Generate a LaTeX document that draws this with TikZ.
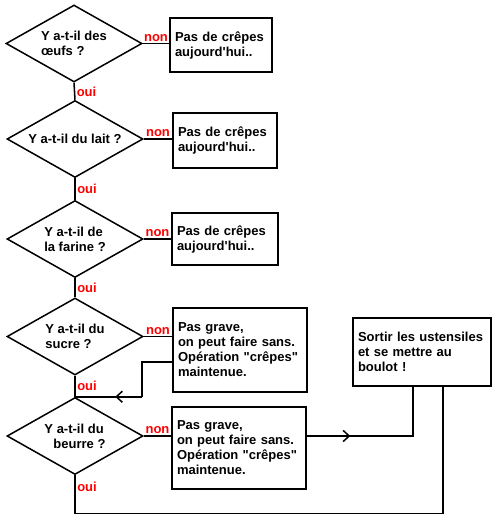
\documentclass[tikz,border=0pt]{standalone}
\usepackage{fontspec}
\newfontfamily\crepefont{Liberation Sans}
\usepackage{tikz}
\usetikzlibrary{
    arrows.meta,
    shapes.geometric,
    decorations.markings
}
\tikzstyle{question} = [diamond, draw, line width=1.5pt, inner sep=0pt, aspect=1.77, minimum width=136pt, minimum height=77pt, align=left]
\tikzstyle{issue} = [rectangle, draw, line width=1.5pt, inner xsep=5pt, inner ysep=0pt, align=left]
\tikzstyle{lien} = [line width=1.5pt]
\tikzstyle{rep} = [text=red, font=\crepefont\bfseries\fontsize{13}{15}\selectfont, inner sep=1.5pt]
\tikzset{milieu/.style={postaction={decorate}, decoration={markings, mark=at position #1 with {\arrow{Straight Barb[length=6pt,width=11pt]}}}}}

\begin{document}
\begin{tikzpicture}[x=1pt,y=-1pt,font=\crepefont\bfseries\fontsize{13}{15}\selectfont]
\useasboundingbox (0,0) rectangle (498,527);
% questions
\node[question] (oeufs) at (74,43.5) {Y a-t-il des\\œufs ?};
\node[question] (lait) at (75,139) {Y a-t-il du lait ?};
\node[question] (farine) at (75,239) {Y a-t-il de\\la farine ?};
\node[question] (sucre) at (75,336.5) {Y a-t-il du\\sucre ?};
\node[question] (beurre) at (75,436) {Y a-t-il du\\\hspace*{9pt}beurre ?};
% reponses
\node[issue, text width=92pt, minimum height=54pt] (rienA) at (221,45) {Pas de crêpes\\aujourd'hui..};
\node[issue, text width=94pt, minimum height=55pt] (rienB) at (225,140.5) {Pas de crêpes\\aujourd'hui..};
\node[issue, text width=96pt, minimum height=52pt] (rienC) at (225,239) {Pas de crêpes\\aujourd'hui..};
\node[issue, text width=124pt, minimum height=84pt] (sansA) at (240,350) {Pas grave,\\on peut faire sans.\\Opération "crêpes"\\maintenue.};
\node[issue, text width=124pt, minimum height=82pt] (sansB) at (239,448) {Pas grave,\\on peut faire sans.\\Opération "crêpes"\\maintenue.};
\node[issue, text width=128pt, minimum height=68pt] (boulot) at (422,352) {Sortir les ustensiles\\et se mettre au\\boulot !};
% oui
\draw[lien] (oeufs.south) -- node[rep, right, pos=.55] {oui} (lait.north);
\draw[lien] (lait.south) -- node[rep, right] {oui} (farine.north);
\draw[lien] (farine.south) -- node[rep, right] {oui} (sucre.north);
\draw[lien] (sucre.south) -- node[rep, right] {oui} (beurre.north);
% non
\draw[lien] (oeufs.east) -- node[rep, above] {non} (oeufs.east -| rienA.west);
\draw[lien] (lait.east) -- node[rep, above] {non} (lait.east -| rienB.west);
\draw[lien] (farine.east) -- node[rep, above] {non} (farine.east -| rienC.west);
\draw[lien] (sucre.east) -- node[rep, above] {non} (sucre.east -| sansA.west);
\draw[lien] (beurre.east) -- node[rep, above] {non} (beurre.east -| sansB.west);
% retours
\path (beurre.north) ++(67,0) coordinate (retour);
\draw[lien] ([yshift=-12pt]sansA.west) -| (retour);
\draw[lien, milieu=.4] (retour) -- (beurre.north);
\draw[lien, milieu=.28] (beurre.east -| sansB.east) -| ([xshift=-9pt]boulot.south);
\draw[lien] (beurre.south) -- node[rep, right, pos=.3] {oui} ++(0,38) -| ([xshift=21pt]boulot.south);
\end{tikzpicture}
\end{document}
